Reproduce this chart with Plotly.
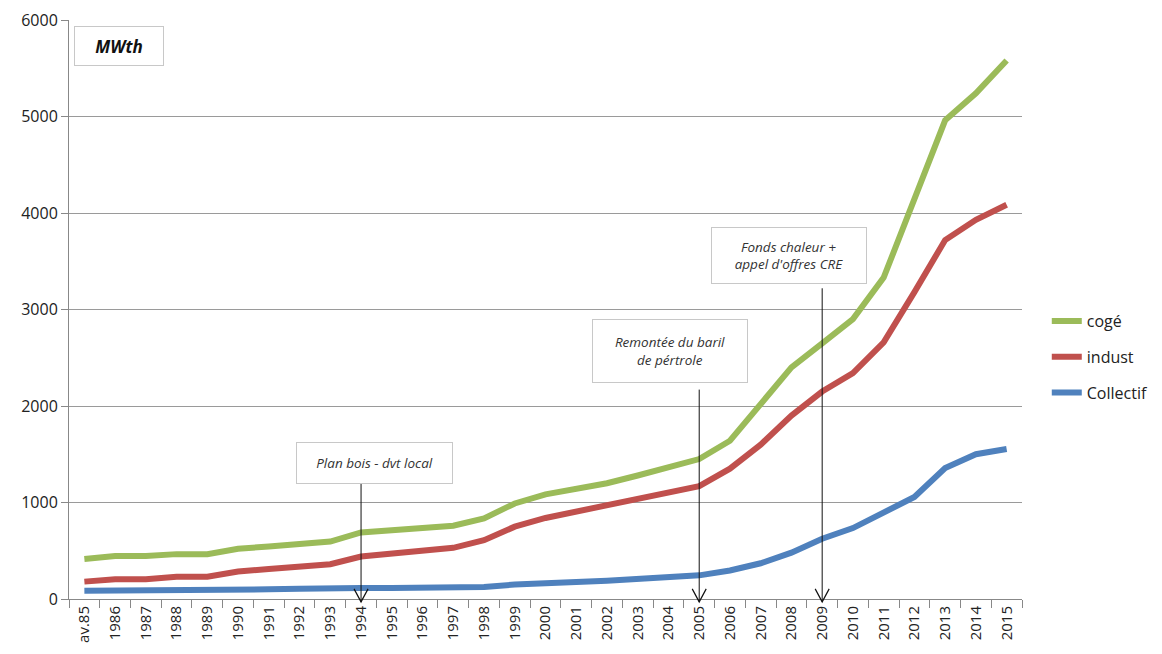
import plotly.graph_objects as go

# Categories (years) and installed capacity series, in MWth
years = ["av.85"] + [str(y) for y in range(1986, 2016)]

coge = [415, 445, 445, 465, 465, 520, 545, 570, 595, 690, 715, 750, 760, 835,
        990, 1085, 1135, 1200, 1280, 1360, 1450, 1640, 2020, 2400, 2650, 2900,
        3330, 4150, 4960, 5240, 5580]
indust = [180, 205, 205, 230, 230, 285, 310, 335, 360, 440, 470, 505, 530, 610,
          750, 840, 905, 970, 1040, 1115, 1170, 1350, 1600, 1900, 2150, 2340,
          2660, 3180, 3720, 3930, 4085]
collectif = [85, 85, 85, 85, 85, 90, 100, 105, 115, 115, 115, 115, 125, 125,
             150, 155, 175, 190, 205, 220, 245, 295, 370, 480, 625, 735,
             895, 1057, 1357, 1500, 1554]

series_names = ["cogé", "indust", "Collectif"]
series_colors = ["#9BBB59", "#C0504D", "#4F81BD"]

# Policy events: label, year pointed at, arrow tail value
event_labels = ["Plan bois - dvt local", "Remontée du baril<br>de pértrole",
                "Fonds chaleur +<br>appel d'offres CRE"]
event_years = ["1994", "2005", "2009"]
event_tails = [1250, 2170, 3220]

FONT = "Open Sans"
Y_MAX = 6000
ARROW_TIP = -30  # arrow tips sit just under the x axis

fig = go.Figure()
for name, vals, col in zip(series_names, [coge, indust, collectif], series_colors):
    fig.add_trace(go.Scatter(
        x=years, y=vals, name=name, mode="lines", legendgroup=name,
        line=dict(color=col, width=6),
    ))

shapes = []
# Arrows pointing at event years: shaft plus open V head.
# y is given in paper units so the tip below the axis is not clipped.
for yr, tail in zip(event_years, event_tails):
    idx = years.index(yr)
    tip_p = ARROW_TIP / Y_MAX
    shapes.append(dict(
        type="line", xref="x", yref="paper", x0=idx, x1=idx,
        y0=tip_p, y1=tail / Y_MAX, line=dict(color="#111111", width=1),
    ))
    shapes.append(dict(
        type="path", xref="x", yref="paper", xsizemode="pixel", ysizemode="pixel",
        xanchor=idx, yanchor=tip_p, path="M -7,13 L 0,0 L 7,13",
        line=dict(color="#111111", width=1.2),
    ))

annotations = []
# Event text boxes (paper coordinates)
box_pos = [(0.3206, 0.235, 155, 40), (0.6306, 0.428, 154, 62), (0.7555, 0.593, 154, 55)]
for lbl, (bx, by, bw, bh) in zip(event_labels, box_pos):
    annotations.append(dict(
        x=bx, y=by, xref="paper", yref="paper", xanchor="center", yanchor="middle",
        text=f"<i>{lbl}</i>", showarrow=False, width=bw, height=bh,
        bgcolor="white", bordercolor="#c8c8c8", borderwidth=1, borderpad=0,
        font=dict(family=FONT, size=13.5, color="#333333"), align="center",
    ))

# Unit label box
annotations.append(dict(
    x=0.0525, y=0.955, xref="paper", yref="paper", xanchor="center", yanchor="middle",
    text="<b><i>MWth</i></b>", showarrow=False, width=88, height=38,
    bgcolor="white", bordercolor="#c8c8c8", borderwidth=1, borderpad=0,
    font=dict(family=FONT, size=17, color="#111111"),
))

fig.update_layout(
    width=1162, height=654,
    margin=dict(l=69, r=140, t=20, b=55, autoexpand=False),
    paper_bgcolor="white", plot_bgcolor="white",
    font=dict(family=FONT, color="#222222"),
    showlegend=True,
    legend=dict(
        x=1.026, y=0.418, xanchor="left", yanchor="middle",
        font=dict(family=FONT, size=16, color="#222222"),
        tracegroupgap=12, itemwidth=30,
    ),
    shapes=shapes,
    annotations=annotations,
)

fig.update_xaxes(
    type="category", range=[-0.5, len(years) - 0.5], tickangle=-90,
    tickson="boundaries", ticks="outside", ticklen=8, tickcolor="#888888",
    showline=True, linecolor="#888888", linewidth=1,
    showgrid=False, tickfont=dict(family=FONT, size=15, color="#222222"),
)
fig.update_yaxes(
    range=[0, Y_MAX], dtick=1000, tickformat="d",
    ticks="outside", ticklen=7, tickcolor="#888888",
    showline=True, linecolor="#888888", linewidth=1,
    showgrid=True, gridcolor="#9a9a9a", gridwidth=1, zeroline=False,
    tickfont=dict(family=FONT, size=16, color="#222222"),
)

fig.write_html("out.html")
